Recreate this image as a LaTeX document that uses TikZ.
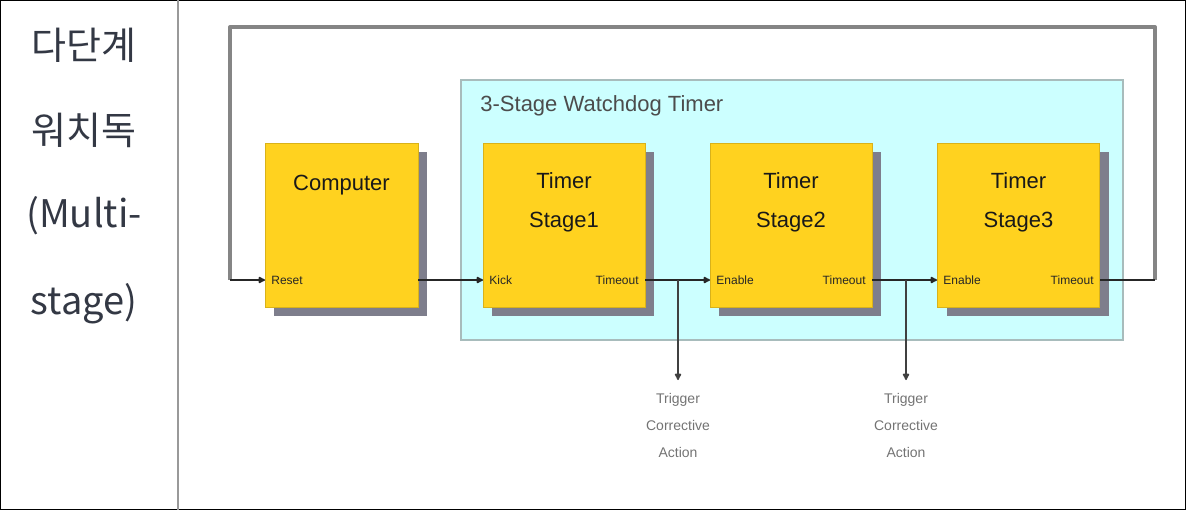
\documentclass[tikz,border=0pt]{standalone}
\usepackage{fontspec}
\setmainfont{Liberation Sans}
\newfontfamily\kfont{Noto Sans CJK KR}
\usetikzlibrary{arrows.meta,shadows}
\definecolor{boxy}{HTML}{FFD21F}
\definecolor{shadowc}{HTML}{7E7E8C}
\definecolor{cyanf}{HTML}{CCFFFF}
\definecolor{cyand}{HTML}{A8BCBC}
\definecolor{ktext}{HTML}{333844}
\definecolor{loopc}{HTML}{858585}
\tikzset{
  blockbox/.style={draw=boxy!85!black,line width=0.3pt,fill=boxy,minimum height=82pt,align=center,
    font=\fontsize{11}{19.5}\selectfont,text=black!85,inner sep=0pt,
    drop shadow={shadow xshift=4.5pt,shadow yshift=-4.5pt,fill=shadowc,opacity=1}},
  blocktext/.style={align=center,font=\fontsize{11}{19.5}\selectfont,text=black!90},
  port/.style={font=\fontsize{6}{7}\selectfont,text=black!85,inner sep=0pt},
  sig/.style={line width=1.1pt,black!85},
  sigarrow/.style={sig,-{Latex[length=4pt,width=4pt,round]}},
  loopline/.style={line width=2pt,loopc,line join=round},
  trig/.style={font=\fontsize{7}{13.5}\selectfont,text=black!55,align=center,inner sep=0pt},
  ktitle/.style={font=\kfont\fontsize{19}{22}\selectfont,text=ktext,inner sep=0pt}
}
\begin{document}
\begin{tikzpicture}[x=0.5pt,y=-0.5pt]
\useasboundingbox (0,0) rectangle (1186,510);
\draw[black,line width=0.6pt] (0.6,0.6) rectangle (1185.4,509.4);
\draw[gray!80,line width=1.3pt] (178,0) -- (178,510);
% left text
\node[ktitle] (k1) at (84,45) {다단계};
\node[ktitle] (k2) at (84,130) {워치독};
\node[ktitle] (k3) at (84,216) {(Multi-};
\node[ktitle] (k4) at (84,304) {stage)};
% cyan area
\node[draw=cyand,fill=cyanf,line width=0.6pt,minimum width=331pt,minimum height=130pt,inner sep=0pt] (wdt) at (792,210) {};
\node[anchor=west,font=\fontsize{11}{13}\selectfont,text=black!70,inner sep=0pt] (wdtl) at (480,106) {3-Stage Watchdog Timer};
% blocks
\node[blockbox,minimum width=76.5pt] (comp) at (341.5,225) {};
\node[blocktext] (compl) at (341.5,185) {Computer};
\node[blockbox,minimum width=81pt] (s1) at (564,225) {};
\node[blockbox,minimum width=81pt] (s2) at (791,225) {};
\node[blockbox,minimum width=81pt] (s3) at (1018.5,225) {};
\node[blocktext] (s1l) at (564,202) {Timer\\Stage1};
\node[blocktext] (s2l) at (791,202) {Timer\\Stage2};
\node[blocktext] (s3l) at (1018.5,202) {Timer\\Stage3};
% ports
\coordinate (cin) at (265,280);
\coordinate (cout) at (418,280);
\coordinate (s1in) at (483,280);
\coordinate (s1out) at (645,280);
\coordinate (s2in) at (710,280);
\coordinate (s2out) at (872,280);
\coordinate (s3in) at (937,280);
\coordinate (s3out) at (1100,280);
\node[port,anchor=west] (pr) at (271,280) {Reset};
\node[port,anchor=west] (pk) at (489,280) {Kick};
\node[port,anchor=east] (pt1) at (639,280) {Timeout};
\node[port,anchor=west] (pe2) at (716,280) {Enable};
\node[port,anchor=east] (pt2) at (866,280) {Timeout};
\node[port,anchor=west] (pe3) at (943,280) {Enable};
\node[port,anchor=east] (pt3) at (1094,280) {Timeout};
% loop
\coordinate (lr) at (1155,280);
\coordinate (lrt) at (1155,27);
\coordinate (llt) at (230,27);
\coordinate (ll) at (230,280);
\draw[loopline] (lr) -- (lrt) -- (llt) -- (ll);
\draw[sig] (s3out) -- (lr);
\draw[sigarrow] (ll) -- (cin);
\draw[sigarrow] (cout) -- (s1in);
\draw[sigarrow] (s1out) -- (s2in);
\draw[sigarrow] (s2out) -- (s3in);
% branches
\coordinate (b1) at (678,280);
\coordinate (b2) at (906,280);
\coordinate (b1e) at (678,380);
\coordinate (b2e) at (906,380);
\draw[sigarrow,black!75] (b1) -- (b1e);
\draw[sigarrow,black!75] (b2) -- (b2e);
\node[trig] (t1) at (678,425) {Trigger\\Corrective\\Action};
\node[trig] (t2) at (906,425) {Trigger\\Corrective\\Action};
\end{tikzpicture}
\end{document}
